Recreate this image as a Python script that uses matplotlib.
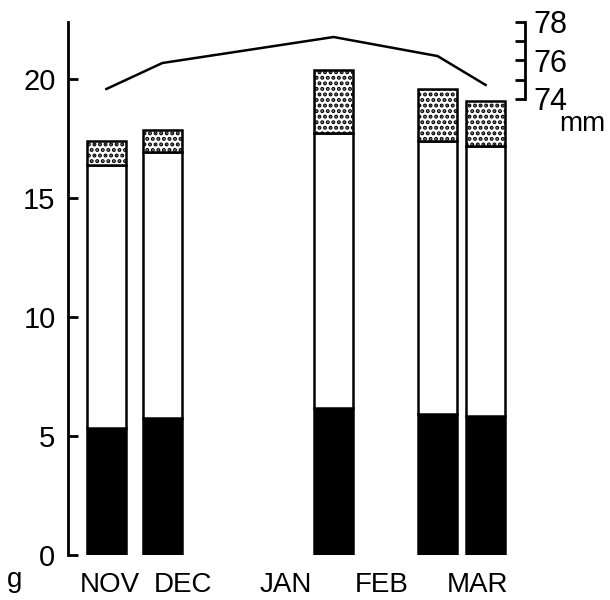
import numpy as np
import matplotlib.pyplot as plt

plt.rcParams['font.family'] = ['Liberation Sans', 'DejaVu Sans']
plt.rcParams['hatch.linewidth'] = 2.0

# sampling dates (days from 1 Nov) and month label positions
sample_day = [12, 29.5, 83, 115.5, 130.5]
month_pos = [13, 36, 68, 98, 128]
month_labels = ['NOV', 'DEC', 'JAN', 'FEB', 'MAR']

# stacked mass components (g), read as cumulative tops
black_top = [5.35, 5.77, 6.16, 5.92, 5.85]
white_top = [16.39, 16.93, 17.75, 17.39, 17.18]
dotted_top = [17.39, 17.86, 20.38, 19.58, 19.08]

# body length (mm)
length_mm = [74.52, 75.87, 77.22, 76.23, 74.73]

black = np.array(black_top)
white = np.array(white_top) - black
dotted = np.array(dotted_top) - np.array(white_top)

fig = plt.figure(figsize=(6.1, 6.0), dpi=100)
ax = fig.add_axes([68/610, 45/600, (525-68)/610, 536/600])
w = 12.2
ax.bar(sample_day, black, width=w, color='black', edgecolor='black', linewidth=1.8)
ax.bar(sample_day, white, bottom=black, width=w, color='white', edgecolor='black', linewidth=1.8)
ax.bar(sample_day, dotted, bottom=white_top, width=w, color='white', edgecolor='black',
       linewidth=1.8, hatch='...')

ax.set_xlim(0, 457/3.2)
ax.set_ylim(0, 536/23.8)
for s in ['top', 'right', 'bottom']:
    ax.spines[s].set_visible(False)
ax.spines['left'].set_linewidth(2)
ax.spines['left'].set_bounds(0, 22.4)
ax.set_yticks([0, 5, 10, 15, 20])
ax.tick_params(axis='y', direction='in', length=7, width=2, pad=9, labelsize=21)
ax.set_xticks(month_pos, month_labels)
ax.tick_params(axis='x', length=0, pad=12, labelsize=20)

ax2 = ax.twinx()
ax2.plot(sample_day, length_mm, color='black', linewidth=1.8)
ax2.set_ylim(74 - 456/19.25, 78 + 3/19.25)
for s in ['top', 'left', 'bottom']:
    ax2.spines[s].set_visible(False)
ax2.spines['right'].set_linewidth(2)
ax2.spines['right'].set_bounds(74, 78)
ax2.set_yticks([74, 76, 78])
ax2.set_yticks([75, 77], minor=True)
ax2.tick_params(axis='y', which='both', direction='in', length=7, width=2, pad=6, labelsize=22)

fig.text(15/610, 1 - 580/600, 'g', fontsize=20, ha='center', va='center')
fig.text(582/610, 1 - 124/600, 'mm', fontsize=20, ha='center', va='center')

fig.savefig('out.png', dpi=100)
